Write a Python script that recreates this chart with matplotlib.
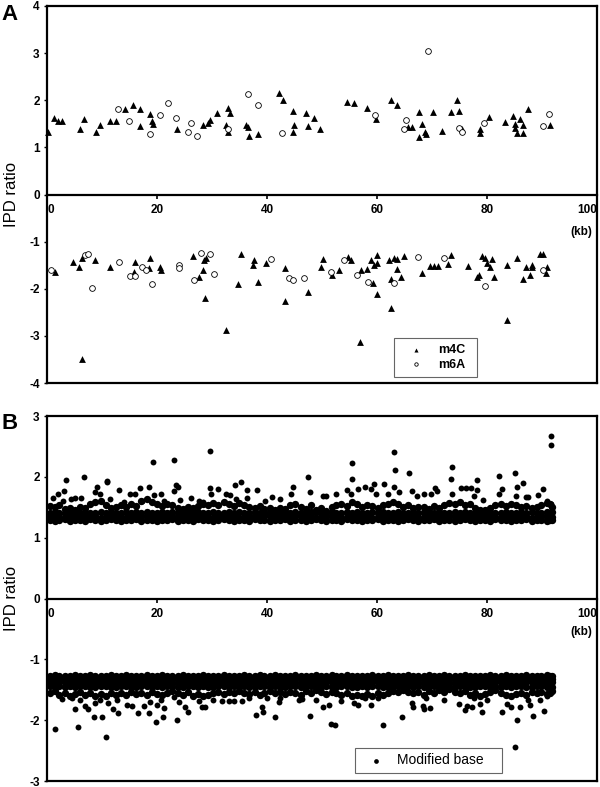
import matplotlib
matplotlib.use('Agg')
import matplotlib.pyplot as plt

plt.rcParams['font.family'] = ['Liberation Sans', 'DejaVu Sans']

# ---- panel A : m4C / m6A positions (kb) and IPD ratios (+ strand above, - strand below)
m4c_kb = [0.2, 1.15, 1.9, 2.7, 6.0, 6.6, 8.85, 9.6, 11.45, 12.4,
          14.05, 15.6, 16.9, 16.9, 18.7, 19.0, 19.3, 23.6, 28.4, 29.3,
          29.5, 30.9, 32.5, 32.95, 33.3, 32.95, 36.2, 36.5, 36.6, 38.4,
          42.2, 42.85, 44.7, 44.9, 44.7, 47.1, 48.5, 47.4, 49.6, 54.6,
          55.8, 58.1, 59.8, 62.5, 63.7, 65.7, 66.3, 67.6, 68.1, 67.7,
          68.7, 68.9, 70.2, 71.8, 73.4, 74.5, 74.9, 75.5, 78.7, 78.7,
          80.4, 83.3, 84.7, 85.1, 85.0, 86.0, 86.5, 85.4, 86.6, 87.4,
          91.5,
          1.33, 4.6, 5.8, 6.3, 8.7, 11.45, 6.3, 16.0, 15.7, 18.7,
          18.5, 20.4, 20.7, 26.5, 27.6, 28.3, 28.5, 28.9, 28.7, 32.5,
          34.7, 35.2, 37.5, 37.4, 38.3, 39.75, 43.15, 43.3, 47.5, 49.8,
          50.2, 51.8, 53.0, 54.7, 55.3, 57.1, 58.1, 58.85, 59.2, 59.45,
          59.9, 59.9, 59.9, 56.9, 62.1, 62.5, 62.5, 63.1, 63.7, 63.6,
          64.3, 64.9, 68.2, 69.6, 70.3, 71.0, 72.9, 73.5, 76.6, 78.1,
          78.5, 79.0, 79.6, 80.05, 80.5, 80.85, 81.3, 83.6, 83.7, 85.5,
          86.5, 87.1, 87.9, 88.1, 88.2, 89.6, 90.2, 90.85, 90.7]
m4c_ipd = [1.33, 1.62, 1.55, 1.55, 1.40, 1.61, 1.33, 1.48, 1.57, 1.57,
           1.82, 1.89, 1.82, 1.45, 1.71, 1.57, 1.50, 1.38, 1.48, 1.52,
           1.59, 1.73, 1.47, 1.84, 1.73, 1.33, 1.48, 1.43, 1.24, 1.29,
           2.15, 2.01, 1.77, 1.47, 1.33, 1.73, 1.62, 1.46, 1.39, 1.96,
           1.94, 1.84, 1.60, 2.01, 1.90, 1.43, 1.43, 1.74, 1.50, 1.21,
           1.32, 1.29, 1.74, 1.34, 1.74, 2.01, 1.78, 1.40, 1.40, 1.31,
           1.65, 1.54, 1.67, 1.50, 1.41, 1.61, 1.47, 1.31, 1.31, 1.82,
           1.48,
           -1.65, -1.44, -1.54, -1.34, -1.39, -1.54, -3.49, -1.44, -1.65, -1.34,
           -1.56, -1.54, -1.60, -1.30, -1.74, -1.60, -1.39, -1.34, -2.20, -2.88,
           -1.90, -1.27, -1.39, -1.49, -1.85, -1.46, -1.56, -2.27, -2.07, -1.53,
           -1.37, -1.71, -1.61, -1.32, -1.40, -1.61, -1.58, -1.39, -1.87, -1.49,
           -1.46, -1.28, -2.11, -3.12, -1.40, -1.80, -2.40, -1.34, -1.37, -1.58,
           -1.74, -1.30, -1.66, -1.51, -1.51, -1.51, -1.47, -1.28, -1.51, -1.76,
           -1.71, -1.30, -1.35, -1.46, -1.54, -1.37, -1.76, -2.66, -1.49, -1.34,
           -1.80, -1.53, -1.71, -1.49, -1.54, -1.27, -1.27, -1.53, -1.66]

m6a_kb = [12.8, 14.9, 18.7, 20.4, 21.9, 23.4, 25.5, 26.2, 27.2, 32.95,
          36.5, 38.4, 42.7, 59.6, 65.3, 64.8, 69.3, 74.8, 75.5, 79.5,
          90.2, 91.3,
          0.7, 6.9, 7.3, 8.2, 12.96, 15.1, 16.0, 17.3, 17.9, 19.1,
          24.0, 24.0, 26.6, 28.0, 29.6, 30.4, 40.7, 43.9, 44.7, 46.7,
          51.6, 53.9, 56.4, 58.3, 63.1, 67.4, 72.1, 79.6, 90.2]
m6a_ipd = [1.82, 1.57, 1.29, 1.68, 1.94, 1.63, 1.33, 1.52, 1.24, 1.38,
           2.13, 1.89, 1.31, 1.68, 1.58, 1.38, 3.04, 1.41, 1.33, 1.52,
           1.46, 1.70,
           -1.60, -1.28, -1.26, -1.99, -1.44, -1.73, -1.73, -1.53, -1.60, -1.90,
           -1.49, -1.56, -1.81, -1.25, -1.26, -1.69, -1.36, -1.78, -1.81, -1.78,
           -1.64, -1.39, -1.71, -1.85, -1.88, -1.33, -1.35, -1.95, -1.60]

# ---- panel B : all modified bases
# the dense band (too many to read one by one, estimated row by row)
band_kb = [0.4, 1.3, 2.2, 3.2, 4.1, 5.0, 6.0, 6.9, 7.8, 8.7,
           9.7, 10.6, 11.5, 12.5, 13.4, 14.3, 15.3, 16.2, 17.1, 18.1,
           19.0, 19.9, 20.9, 21.8, 22.7, 23.7, 24.6, 25.5, 26.5, 27.4,
           28.3, 29.3, 30.2, 31.1, 32.1, 33.0, 33.9, 34.9, 35.8, 36.7,
           37.7, 38.6, 39.5, 40.5, 41.4, 42.3, 43.3, 44.2, 45.1, 46.1,
           47.0, 47.9, 48.9, 49.8, 50.7, 51.7, 52.6, 53.5, 54.5, 55.4,
           56.3, 57.3, 58.2, 59.1, 60.1, 61.0, 61.9, 62.9, 63.8, 64.7,
           65.7, 66.6, 67.5, 68.5, 69.4, 70.3, 71.3, 72.2, 73.1, 74.1,
           75.0, 75.9, 76.9, 77.8, 78.7, 79.7, 80.6, 81.5, 82.5, 83.4,
           84.3, 85.3, 86.2, 87.1, 88.1, 89.0, 89.9, 90.9, 91.4, 91.8]

pos_row1 = [1.29, 1.28, 1.29, 1.30, 1.28, 1.29, 1.29, 1.28, 1.30, 1.29,
            1.28, 1.29, 1.30, 1.29, 1.28, 1.29, 1.29, 1.30, 1.28, 1.29,
            1.29, 1.28, 1.29, 1.29, 1.30, 1.28, 1.29, 1.29, 1.28, 1.30,
            1.29, 1.29, 1.28, 1.29, 1.30, 1.29, 1.28, 1.29, 1.29, 1.28,
            1.30, 1.29, 1.29, 1.28, 1.29, 1.29, 1.30, 1.28, 1.29, 1.29,
            1.28, 1.29, 1.30, 1.29, 1.28, 1.29, 1.29, 1.28, 1.30, 1.29,
            1.29, 1.28, 1.29, 1.29, 1.30, 1.28, 1.29, 1.29, 1.28, 1.29,
            1.30, 1.29, 1.28, 1.29, 1.29, 1.30, 1.28, 1.29, 1.29, 1.28,
            1.29, 1.30, 1.29, 1.28, 1.29, 1.29, 1.28, 1.30, 1.29, 1.29,
            1.28, 1.29, 1.29, 1.30, 1.28, 1.29, 1.29, 1.28, 1.29, 1.29]
pos_row2 = [1.34, 1.35, 1.33, 1.34, 1.36, 1.34, 1.33, 1.35, 1.34, 1.35,
            1.33, 1.34, 1.36, 1.35, 1.34, 1.33, 1.35, 1.34, 1.36, 1.34,
            1.35, 1.33, 1.34, 1.35, 1.34, 1.36, 1.33, 1.34, 1.35, 1.34,
            1.36, 1.34, 1.33, 1.35, 1.34, 1.35, 1.36, 1.33, 1.34, 1.35,
            1.34, 1.33, 1.35, 1.36, 1.34, 1.35, 1.33, 1.34, 1.35, 1.36,
            1.34, 1.35, 1.33, 1.34, 1.36, 1.34, 1.35, 1.33, 1.34, 1.35,
            1.35, 1.34, 1.36, 1.33, 1.34, 1.35, 1.34, 1.36, 1.33, 1.35,
            1.34, 1.35, 1.33, 1.34, 1.36, 1.35, 1.34, 1.33, 1.35, 1.34,
            1.36, 1.34, 1.35, 1.33, 1.34, 1.35, 1.36, 1.34, 1.33, 1.35,
            1.34, 1.35, 1.34, 1.36, 1.33, 1.34, 1.35, 1.34, 1.35, 1.34]
pos_row3 = [1.41, 1.42, 1.40, 1.41, 1.43, 1.40, 1.41, 1.42, 1.41, 1.40,
            1.42, 1.41, 1.43, 1.40, 1.41, 1.42, 1.41, 1.43, 1.40, 1.42,
            1.41, 1.40, 1.42, 1.41, 1.43, 1.41, 1.40, 1.42, 1.41, 1.43,
            1.40, 1.41, 1.42, 1.41, 1.40, 1.43, 1.41, 1.42, 1.40, 1.41,
            1.42, 1.41, 1.40, 1.42, 1.41, 1.43, 1.40, 1.41, 1.42, 1.40,
            1.41, 1.43, 1.42, 1.40, 1.41, 1.42, 1.41, 1.40, 1.43, 1.41,
            1.42, 1.40, 1.41, 1.43, 1.41, 1.42, 1.40, 1.41, 1.42, 1.41,
            1.40, 1.42, 1.41, 1.43, 1.40, 1.41, 1.42, 1.41, 1.40, 1.42,
            1.41, 1.43, 1.40, 1.41, 1.42, 1.41, 1.43, 1.40, 1.41, 1.42,
            1.40, 1.41, 1.42, 1.41, 1.43, 1.40, 1.41, 1.42, 1.41, 1.42]
pos_row4 = [1.52, 1.50, 1.54, 1.47, 1.49, 1.46, 1.51, 1.48, 1.55, 1.58,
            1.61, 1.53, 1.49, 1.51, 1.54, 1.50, 1.55, 1.52, 1.60, 1.63,
            1.58, 1.55, 1.52, 1.56, 1.53, 1.49, 1.47, 1.50, 1.48, 1.52,
            1.55, 1.53, 1.57, 1.54, 1.58, 1.55, 1.52, 1.57, 1.54, 1.50,
            1.49, 1.52, 1.47, 1.48, 1.46, 1.49, 1.47, 1.53, 1.55, 1.51,
            1.47, 1.54, 1.45, 1.48, 1.44, 1.50, 1.53, 1.56, 1.52, 1.58,
            1.55, 1.51, 1.54, 1.52, 1.49, 1.53, 1.56, 1.58, 1.55, 1.51,
            1.53, 1.49, 1.51, 1.50, 1.47, 1.52, 1.49, 1.54, 1.57, 1.55,
            1.58, 1.53, 1.56, 1.48, 1.46, 1.45, 1.49, 1.53, 1.55, 1.52,
            1.56, 1.54, 1.50, 1.52, 1.48, 1.51, 1.54, 1.57, 1.55, 1.50]

neg_row1 = [-1.27, -1.26, -1.28, -1.27, -1.27, -1.26, -1.28, -1.27, -1.26, -1.27,
            -1.28, -1.27, -1.26, -1.27, -1.28, -1.26, -1.27, -1.27, -1.28, -1.26,
            -1.27, -1.28, -1.26, -1.27, -1.27, -1.28, -1.26, -1.27, -1.28, -1.27,
            -1.26, -1.27, -1.28, -1.27, -1.26, -1.27, -1.27, -1.28, -1.26, -1.27,
            -1.27, -1.26, -1.28, -1.27, -1.26, -1.28, -1.27, -1.27, -1.26, -1.28,
            -1.27, -1.28, -1.26, -1.27, -1.27, -1.26, -1.28, -1.27, -1.26, -1.27,
            -1.28, -1.27, -1.27, -1.26, -1.28, -1.27, -1.26, -1.27, -1.28, -1.27,
            -1.26, -1.27, -1.28, -1.27, -1.26, -1.27, -1.28, -1.26, -1.27, -1.27,
            -1.28, -1.26, -1.27, -1.27, -1.28, -1.27, -1.26, -1.28, -1.27, -1.26,
            -1.27, -1.28, -1.27, -1.26, -1.27, -1.28, -1.27, -1.26, -1.27, -1.27]
neg_row2 = [-1.32, -1.33, -1.31, -1.32, -1.34, -1.32, -1.31, -1.33, -1.32, -1.34,
            -1.31, -1.32, -1.33, -1.34, -1.32, -1.31, -1.33, -1.32, -1.34, -1.32,
            -1.33, -1.31, -1.32, -1.34, -1.33, -1.32, -1.31, -1.33, -1.32, -1.34,
            -1.32, -1.33, -1.31, -1.32, -1.34, -1.33, -1.32, -1.31, -1.33, -1.32,
            -1.34, -1.32, -1.33, -1.31, -1.32, -1.33, -1.34, -1.32, -1.31, -1.33,
            -1.32, -1.34, -1.31, -1.33, -1.32, -1.32, -1.33, -1.31, -1.34, -1.32,
            -1.33, -1.32, -1.34, -1.31, -1.32, -1.33, -1.32, -1.34, -1.31, -1.33,
            -1.32, -1.31, -1.33, -1.32, -1.34, -1.33, -1.32, -1.31, -1.33, -1.32,
            -1.34, -1.32, -1.33, -1.31, -1.32, -1.34, -1.33, -1.32, -1.31, -1.33,
            -1.32, -1.33, -1.34, -1.32, -1.31, -1.33, -1.32, -1.34, -1.33, -1.32]
neg_row3 = [-1.38, -1.39, -1.37, -1.38, -1.40, -1.38, -1.37, -1.39, -1.38, -1.40,
            -1.37, -1.38, -1.39, -1.40, -1.38, -1.37, -1.39, -1.38, -1.40, -1.38,
            -1.39, -1.37, -1.38, -1.40, -1.39, -1.38, -1.37, -1.39, -1.38, -1.40,
            -1.38, -1.39, -1.37, -1.38, -1.40, -1.39, -1.38, -1.37, -1.39, -1.38,
            -1.40, -1.38, -1.39, -1.37, -1.38, -1.39, -1.40, -1.38, -1.37, -1.39,
            -1.38, -1.40, -1.37, -1.39, -1.38, -1.38, -1.39, -1.37, -1.40, -1.38,
            -1.39, -1.38, -1.40, -1.37, -1.38, -1.39, -1.38, -1.40, -1.37, -1.39,
            -1.38, -1.37, -1.39, -1.38, -1.40, -1.39, -1.38, -1.37, -1.39, -1.38,
            -1.40, -1.38, -1.39, -1.37, -1.38, -1.40, -1.39, -1.38, -1.37, -1.39,
            -1.38, -1.39, -1.40, -1.38, -1.37, -1.39, -1.38, -1.40, -1.39, -1.38]
neg_row4 = [-1.44, -1.45, -1.43, -1.46, -1.44, -1.45, -1.43, -1.44, -1.46, -1.45,
            -1.43, -1.44, -1.46, -1.45, -1.44, -1.43, -1.45, -1.46, -1.44, -1.43,
            -1.45, -1.44, -1.46, -1.43, -1.44, -1.45, -1.46, -1.44, -1.43, -1.45,
            -1.44, -1.46, -1.45, -1.43, -1.44, -1.45, -1.44, -1.46, -1.43, -1.45,
            -1.46, -1.44, -1.43, -1.45, -1.44, -1.46, -1.45, -1.43, -1.44, -1.45,
            -1.44, -1.43, -1.46, -1.45, -1.44, -1.46, -1.45, -1.44, -1.43, -1.45,
            -1.46, -1.44, -1.45, -1.43, -1.44, -1.46, -1.45, -1.44, -1.43, -1.45,
            -1.44, -1.46, -1.43, -1.45, -1.44, -1.43, -1.45, -1.46, -1.44, -1.45,
            -1.43, -1.44, -1.46, -1.45, -1.44, -1.43, -1.45, -1.44, -1.46, -1.44,
            -1.45, -1.43, -1.44, -1.46, -1.45, -1.44, -1.43, -1.45, -1.44, -1.45]
neg_row5 = [-1.56, -1.52, -1.58, -1.55, -1.60, -1.57, -1.54, -1.59, -1.56, -1.60,
            -1.57, -1.61, -1.55, -1.58, -1.56, -1.59, -1.54, -1.57, -1.55, -1.58,
            -1.54, -1.57, -1.59, -1.55, -1.52, -1.56, -1.58, -1.54, -1.60, -1.57,
            -1.61, -1.58, -1.55, -1.53, -1.57, -1.54, -1.56, -1.52, -1.55, -1.57,
            -1.54, -1.58, -1.55, -1.52, -1.56, -1.54, -1.57, -1.53, -1.55, -1.58,
            -1.52, -1.55, -1.50, -1.54, -1.57, -1.53, -1.56, -1.59, -1.55, -1.60,
            -1.58, -1.61, -1.57, -1.60, -1.56, -1.59, -1.55, -1.52, -1.54, -1.51,
            -1.53, -1.56, -1.54, -1.58, -1.52, -1.55, -1.50, -1.53, -1.49, -1.54,
            -1.56, -1.52, -1.58, -1.55, -1.60, -1.57, -1.54, -1.51, -1.56, -1.58,
            -1.60, -1.57, -1.55, -1.58, -1.54, -1.56, -1.53, -1.57, -1.55, -1.52]

# the scattered ones outside the band, read individually
spread_kb = [0.97, 1.9, 3.0, 3.4, 2.8, 4.3, 5.1, 6.1, 6.6, 9.0,
             8.6, 9.5, 10.85, 10.9, 11.3, 13.1, 13.9, 15.1, 16.0, 16.8,
             17.2, 18.5, 19.2, 19.45, 20.7, 21.15, 23.0, 23.4, 23.75, 22.95,
             24.2, 26.1, 27.5, 28.3, 29.6, 29.6, 29.7, 31.1, 32.5, 33.3,
             34.2, 35.2, 34.3, 36.3, 36.4, 38.1, 39.6, 40.85, 42.4, 44.7,
             44.3, 47.5, 47.8, 50.2, 50.7, 52.5, 54.5, 55.5, 55.4, 55.3,
             56.6, 57.7, 58.8, 59.45, 59.8, 61.3, 61.9, 63.1, 63.3, 63.1,
             63.9, 65.8, 66.3, 67.3, 68.5, 69.8, 70.5, 70.8, 73.7, 73.5,
             73.7, 75.2, 76.2, 77.0, 78.1, 78.1, 77.6, 79.2, 82.2, 82.7,
             82.1, 85.0, 85.5, 86.6, 85.3, 87.0, 87.5, 89.35, 90.2, 91.6,
             91.6, 91.6, 90.85,
             1.45, 5.5, 10.7, 5.1, 7.3, 8.4, 6.9, 6.0, 2.7, 4.5,
             8.6, 9.5, 10.0, 11.1, 12.0, 12.9, 12.7, 14.4, 15.4, 16.4,
             17.6, 18.4, 18.7, 19.8, 19.9, 21.15, 21.0, 20.7, 23.6, 23.1,
             23.9, 25.1, 25.6, 28.1, 28.6, 27.6, 30.1, 31.75, 33.0, 33.9,
             35.4, 36.6, 38.0, 39.0, 39.2, 39.95, 41.45, 42.05, 42.4, 45.7,
             47.7, 46.3, 48.9, 50.2, 51.3, 51.6, 52.4, 53.5, 55.7, 56.6,
             57.8, 58.9, 60.1, 61.1, 64.5, 66.3, 66.5, 68.4, 68.5, 69.6,
             68.9, 72.1, 74.8, 76.0, 76.3, 77.2, 78.7, 79.0, 77.7, 79.95,
             82.7, 83.6, 84.4, 85.0, 85.4, 86.0, 87.4, 87.8, 88.4, 89.6,
             90.4, 90.85]
spread_ipd = [1.65, 1.72, 1.76, 1.94, 1.60, 1.64, 1.66, 1.66, 1.99, 1.83,
              1.75, 1.72, 1.93, 1.91, 1.64, 1.79, 1.59, 1.71, 1.72, 1.81,
              1.60, 1.83, 2.24, 1.70, 1.72, 1.60, 2.27, 1.87, 1.83, 1.77,
              1.62, 1.65, 1.61, 1.58, 2.43, 1.82, 1.72, 1.80, 1.72, 1.70,
              1.87, 1.92, 1.63, 1.78, 1.66, 1.78, 1.61, 1.67, 1.64, 1.83,
              1.72, 1.99, 1.75, 1.69, 1.69, 1.72, 1.78, 2.23, 1.96, 1.72,
              1.80, 1.84, 1.80, 1.89, 1.72, 1.89, 1.71, 2.41, 2.11, 1.83,
              1.75, 2.06, 1.76, 1.68, 1.72, 1.71, 1.82, 1.76, 2.16, 1.96,
              1.71, 1.82, 1.82, 1.82, 1.94, 1.79, 1.68, 1.62, 2.01, 1.80,
              1.72, 2.06, 1.84, 1.90, 1.68, 1.67, 1.67, 1.70, 1.80, 2.67,
              2.53, 1.56, 1.61,
              -2.15, -2.12, -2.28, -1.82, -1.82, -1.94, -1.77, -1.67, -1.66, -1.63,
              -1.72, -1.67, -1.94, -1.71, -1.82, -1.89, -1.67, -1.75, -1.77, -1.88,
              -1.77, -1.88, -1.70, -2.03, -1.75, -1.80, -1.94, -1.67, -2.00, -1.62,
              -1.70, -1.78, -1.87, -1.79, -1.79, -1.69, -1.67, -1.69, -1.69, -1.68,
              -1.69, -1.64, -1.92, -1.79, -1.86, -1.63, -1.95, -1.70, -1.64, -1.67,
              -1.93, -1.66, -1.67, -1.79, -1.75, -2.07, -2.08, -1.69, -1.71, -1.75,
              -1.64, -1.75, -1.64, -2.08, -1.95, -1.72, -1.79, -1.77, -1.82, -1.80,
              -1.63, -1.67, -1.73, -1.83, -1.76, -1.79, -1.74, -1.86, -1.63, -1.67,
              -1.87, -1.74, -1.78, -2.44, -2.00, -1.78, -1.67, -1.75, -1.93, -1.67,
              -1.85, -1.61]

band_rows = [pos_row1, pos_row2, pos_row3, pos_row4,
             neg_row1, neg_row2, neg_row3, neg_row4, neg_row5]
assert all(len(r) == len(band_kb) for r in band_rows)
assert len(spread_kb) == len(spread_ipd)
assert len(m4c_kb) == len(m4c_ipd) and len(m6a_kb) == len(m6a_ipd)

kb_ticks = [0, 20, 40, 60, 80, 100]

fig = plt.figure(figsize=(6, 7.87), dpi=100)
axA = fig.add_axes([0.079, 0.5133, 0.916, 0.4791])
axB = fig.add_axes([0.079, 0.0076, 0.916, 0.4638])


def setup(ax, ylim, kb_y):
    ax.set_xlim(0, 100)
    ax.set_ylim(-ylim, ylim)
    ax.set_yticks(range(-ylim, ylim + 1))
    ax.set_yticklabels([str(v) for v in range(-ylim, ylim + 1)], fontweight='bold')
    ax.tick_params(axis='y', direction='out', length=2.5, width=1, labelsize=8.5, pad=3)
    ax.set_xticks([])
    for s in ax.spines.values():
        s.set_linewidth(1.6)
    # x axis sits on the zero line
    sec = ax.secondary_xaxis(0.5)
    sec.set_alignment('bottom')
    sec.set_xticks(kb_ticks, [str(v) for v in kb_ticks], fontweight='bold', fontsize=8.5)
    sec.tick_params(direction='out', length=3, width=1.2, pad=4)
    sec.spines['bottom'].set_linewidth(1.6)
    labs = sec.get_xticklabels()
    labs[0].set_horizontalalignment('left')
    labs[-1].set_horizontalalignment('right')
    ax.text(97.2, kb_y, '(kb)', ha='center', va='center', fontsize=8.5, fontweight='bold')
    ax.set_ylabel('IPD ratio', fontsize=12)
    ax.yaxis.set_label_coords(-0.052, 0.5)


setup(axA, 4, -0.79)
setup(axB, 3, -0.55)

# panel A
axA.scatter(m4c_kb, m4c_ipd, marker='^', s=24, c='black', linewidths=0, label='m4C', clip_on=False, zorder=3)
axA.scatter(m6a_kb, m6a_ipd, marker='o', s=17, facecolors='white', edgecolors='black', linewidths=0.6,
            label='m6A', clip_on=False, zorder=4)
legA = axA.legend(loc='lower left', bbox_to_anchor=(0.631, 0.016, 0.151, 0.117), mode='expand',
                  frameon=True, fancybox=False, edgecolor='#666666', framealpha=1,
                  prop={'size': 9, 'weight': 'bold'}, borderpad=0.5, labelspacing=0.2,
                  handlelength=2.5, handletextpad=0.5, borderaxespad=0, markerscale=0.6)
legA.get_frame().set_linewidth(0.8)

# panel B
for row in band_rows:
    axB.scatter(band_kb, row, s=28, c='black', linewidths=0, zorder=3)
axB.scatter(spread_kb, spread_ipd, s=18, c='black', linewidths=0, zorder=3, label='Modified base')
legB = axB.legend(loc='lower left', bbox_to_anchor=(0.56, 0.022, 0.268, 0.074), mode='expand',
                  frameon=True, fancybox=False, edgecolor='#666666', framealpha=1,
                  prop={'size': 10}, borderpad=0.4, handlelength=2.2, handletextpad=0.4,
                  borderaxespad=0, markerscale=0.8)
legB.get_frame().set_linewidth(0.8)

fig.text(0.003, 1 - 14.5 / 787, 'A', fontsize=16, fontweight='bold', va='center', ha='left')
fig.text(0.003, 1 - 424 / 787, 'B', fontsize=16, fontweight='bold', va='center', ha='left')

fig.savefig('out.png', dpi=100)
